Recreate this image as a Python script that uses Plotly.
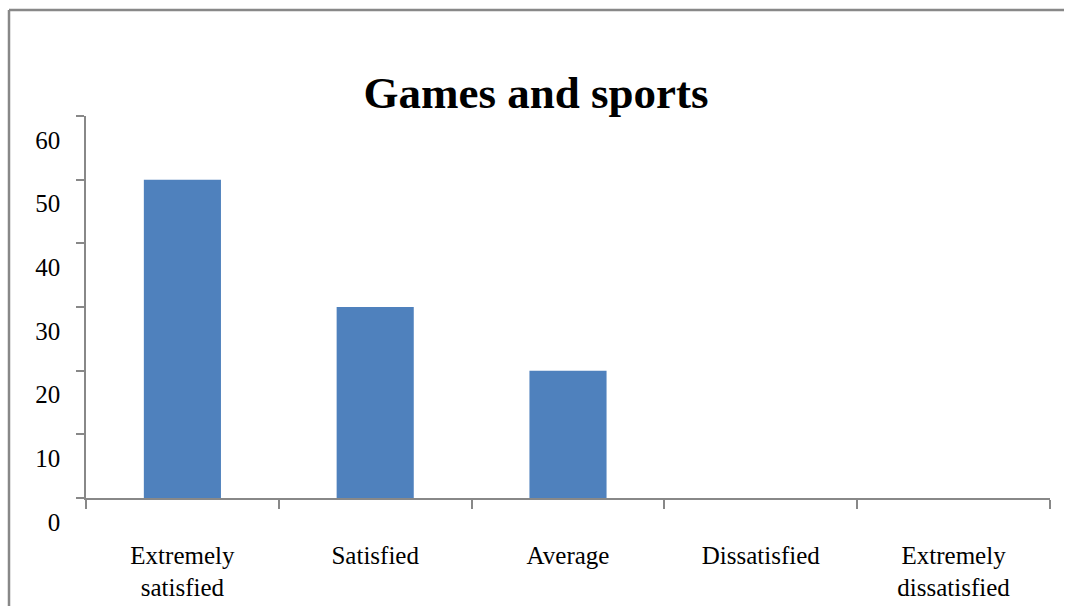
import plotly.graph_objects as go

# Survey responses for "Games and sports"
# (a zero-width non-joiner keeps "fi" from being set as a ligature glyph)
ZWNJ = "\u200c"
categories = [
    "Extremely<br>satisf" + ZWNJ + "ied",
    "Satisf" + ZWNJ + "ied",
    "Average",
    "Dissatisf" + ZWNJ + "ied",
    "Extremely<br>dissatisf" + ZWNJ + "ied",
]
responses = [50, 30, 20, 0, 0]
y_ticks = [0, 10, 20, 30, 40, 50, 60]

BAR_COLOR = "#4F81BD"
AXIS_COLOR = "#888888"
FONT = "Liberation Serif, Times New Roman, serif"

fig = go.Figure(
    go.Bar(
        x=categories,
        y=responses,
        marker=dict(color=BAR_COLOR, line=dict(width=0)),
        width=0.4,
    )
)

W, H = 1065, 606
L, R, T, B = 86, 15, 116, 108

fig.update_layout(
    width=W,
    height=H,
    margin=dict(l=L, r=R, t=T, b=B),
    paper_bgcolor="white",
    plot_bgcolor="white",
    showlegend=False,
    font=dict(family=FONT, size=25, color="black"),
    title=dict(
        text="<b>Games and sports</b>",
        font=dict(family=FONT, size=45, color="black"),
        x=536 / W,
        xref="container",
        xanchor="center",
        y=1 - 92 / H,
        yref="container",
        yanchor="middle",
    ),
)

fig.update_xaxes(
    automargin=False,
    showgrid=False,
    showline=True,
    linecolor=AXIS_COLOR,
    linewidth=1.5,
    ticks="outside",
    tickson="boundaries",
    ticklen=9,
    tickcolor=AXIS_COLOR,
    tickwidth=1.5,
    ticklabelstandoff=34,
    tickfont=dict(family=FONT, size=25, color="black"),
    zeroline=False,
)

fig.update_yaxes(
    automargin=False,
    range=[0, 60],
    tickvals=y_ticks,
    showgrid=False,
    showline=True,
    linecolor=AXIS_COLOR,
    linewidth=1.5,
    ticks="outside",
    ticklen=8,
    tickcolor=AXIS_COLOR,
    tickwidth=1.5,
    ticklabelshift=24,
    ticklabelstandoff=11,
    tickfont=dict(family=FONT, size=25, color="black"),
    zeroline=False,
)

# Outer frame (left and top edges)
pw, ph = W - L - R, H - T - B
def px_x(x):
    return (x - L) / pw

def px_y(y):
    return (H - B - y) / ph

frame = dict(color=AXIS_COLOR, width=2.5)
fig.add_shape(type="line", xref="paper", yref="paper",
              x0=px_x(9), x1=px_x(9), y0=px_y(10), y1=px_y(H + 5), line=frame)
fig.add_shape(type="line", xref="paper", yref="paper",
              x0=px_x(9), x1=px_x(1064), y0=px_y(10), y1=px_y(10), line=frame)

fig.write_html("out.html")
